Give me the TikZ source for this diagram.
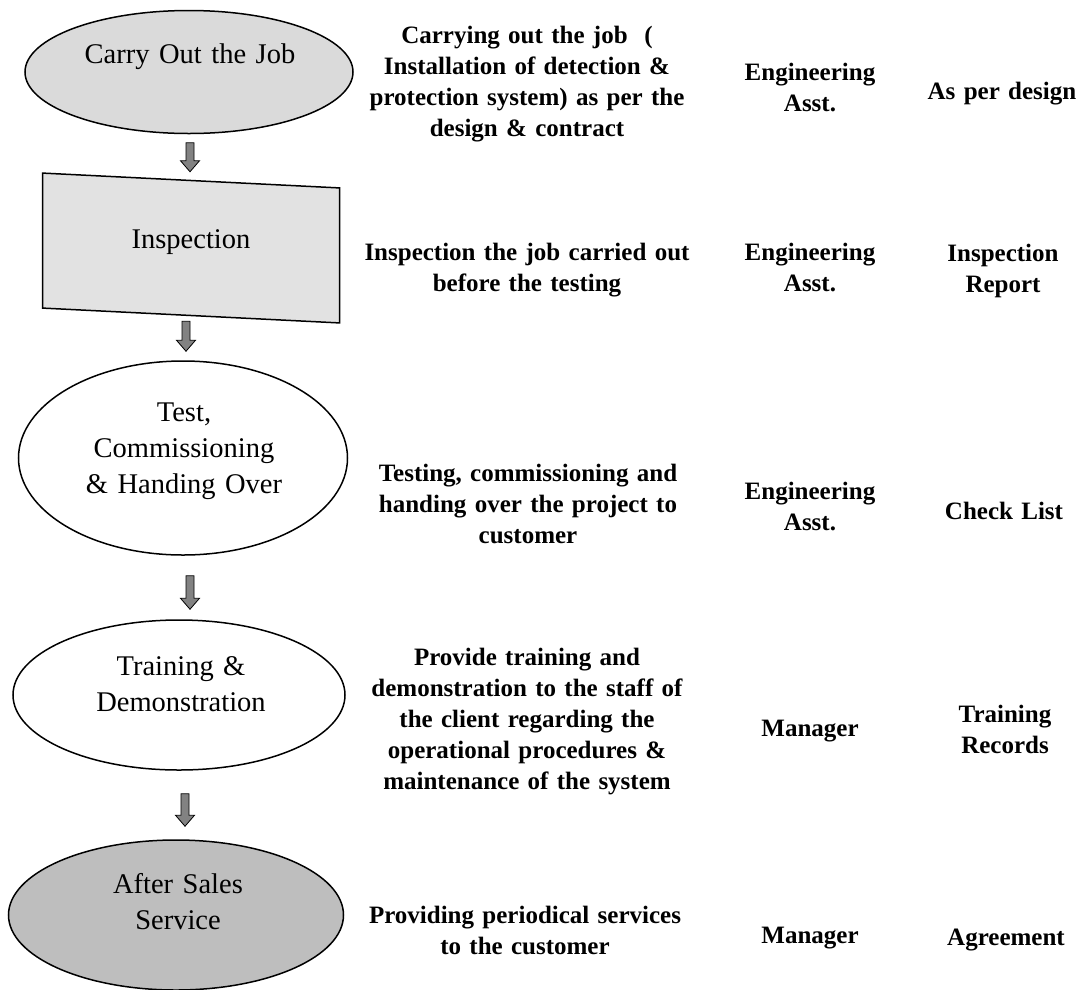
\documentclass[tikz,border=0pt]{standalone}
\usepackage{fontspec}
\setmainfont{Liberation Serif}
\usetikzlibrary{shapes.geometric,calc}
\definecolor{fillA}{RGB}{218,218,218}
\definecolor{fillR}{RGB}{226,226,226}
\definecolor{fillE}{RGB}{190,190,190}
\definecolor{arrowgray}{RGB}{130,130,130}
\tikzset{
  shapebox/.style={draw=black, line width=1.5pt, inner sep=0pt},
  oval/.style={shapebox, ellipse},
  lbl/.style={font=\fontsize{28.5pt}{36pt}\selectfont, align=center, text width=320pt, anchor=base, inner sep=0pt},
  desc/.style={font=\bfseries\fontsize{25pt}{31pt}\selectfont, align=center, text width=340pt, anchor=base, inner sep=0pt},
  role/.style={font=\bfseries\fontsize{25pt}{31pt}\selectfont, align=center, text width=180pt, anchor=base, inner sep=0pt},
  blk/.style={draw=black, line width=0.8pt, fill=arrowgray, line join=miter,
    to path={let \p1=(\tikztostart), \p2=(\tikztotarget) in
      (\x1-4pt,\y1) -- (\x1+4pt,\y1) -- (\x1+4pt,\y2+11pt) -- (\x1+9.5pt,\y2+11pt)
      -- (\x1,\y2) -- (\x1-9.5pt,\y2+11pt) -- (\x1-4pt,\y2+11pt) -- cycle}}
}
\begin{document}
\begin{tikzpicture}[x=1pt,y=-1pt]
\useasboundingbox (0,0) rectangle (1079,989);
\fill[white] (0,0) rectangle (1079,989);

% shapes
\node[oval, fill=fillA, minimum width=328pt, minimum height=123pt] (e1) at (189,72) {};
\node[shapebox, rectangle, fill=fillR, minimum width=297pt, minimum height=135pt, yslant=-0.05] (insp) at (191,248) {};
\node[oval, fill=white, minimum width=329pt, minimum height=194pt] (e3) at (183,458) {};
\node[oval, fill=white, minimum width=332pt, minimum height=150pt] (e4) at (179,695) {};
\node[oval, fill=fillE, minimum width=335pt, minimum height=150pt] (e5) at (176,915) {};

% shape labels
\node[lbl] (t1) at (190,63) {Carry Out the Job};
\node[lbl] (t2) at (191,248) {Inspection};
\node[lbl] (t3) at (184,421) {Test,\\Commissioning\\\& Handing Over};
\node[lbl] (t4) at (181,675) {Training \&\\Demonstration};
\node[lbl] (t5) at (178,893) {After Sales\\Service};

% arrows
\draw[blk] ($(e1.south)+(1pt,-8.5pt)$) to ($(insp.north)+(0pt,8pt)$);
\draw[blk] ($(insp.south)+(-5pt,-5pt)$) to ($(e3.north)+(0pt,9pt)$);
\draw[blk] ($(e3.south)+(7pt,-20pt)$) to ($(e4.north)+(0pt,10pt)$);
\draw[blk] ($(e4.south)+(6pt,-23pt)$) to ($(e5.north)+(0pt,13pt)$);

% row 1
\node[desc] (d1) at (527,43.5) {Carrying out the job~~(\\Installation of detection \&\\protection system) as per the\\design \& contract};
\node[role] (r1) at (810,80.5) {Engineering\\Asst.};
\node[role] (o1) at (1002,99) {As per design};
% row 2
\node[desc] (d2) at (527,260.5) {Inspection the job carried out\\before the testing};
\node[role] (r2) at (810,260.5) {Engineering\\Asst.};
\node[role] (o2) at (1003,261.5) {Inspection\\Report};
% row 3
\node[desc] (d3) at (528,481) {Testing, commissioning and\\handing over the project to\\customer};
\node[role] (r3) at (810,499.5) {Engineering\\Asst.};
\node[role] (o3) at (1004,519) {Check List};
% row 4
\node[desc] (d4) at (527,665) {Provide training and\\demonstration to the staff of\\the client regarding the\\operational procedures \&\\maintenance of the system};
\node[role] (r4) at (810,736) {Manager};
\node[role] (o4) at (1005,722.5) {Training\\Records};
% row 5
\node[desc] (d5) at (525,923.5) {Providing periodical services\\to the customer};
\node[role] (r5) at (810,943) {Manager};
\node[role] (o5) at (1006,945) {Agreement};
\end{tikzpicture}
\end{document}
